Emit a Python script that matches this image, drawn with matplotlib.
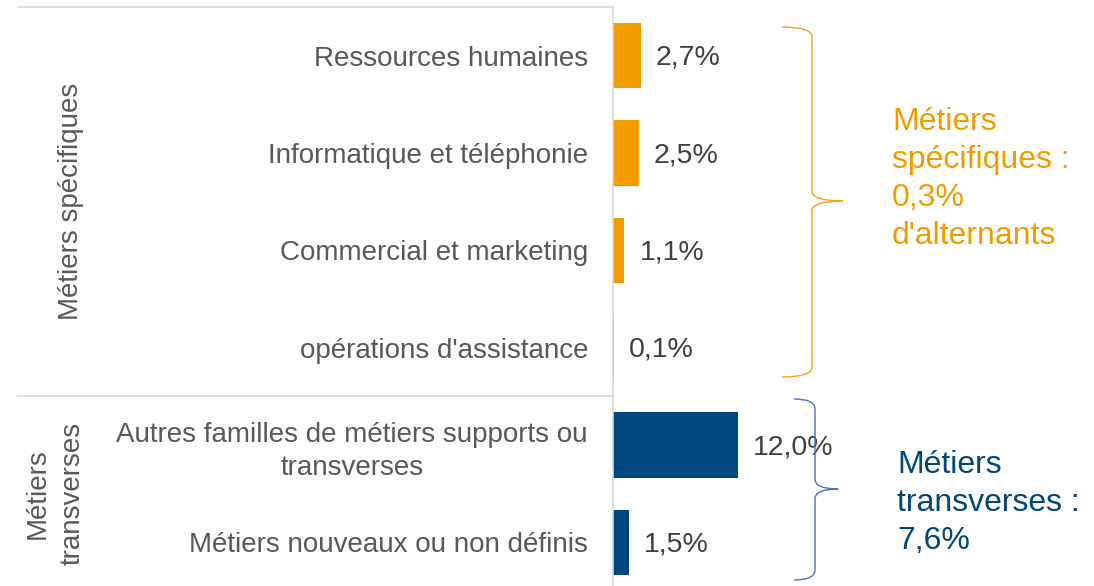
import matplotlib
matplotlib.use("Agg")
import matplotlib.pyplot as plt
from matplotlib.path import Path
from matplotlib.patches import PathPatch
from matplotlib.lines import Line2D
import matplotlib.transforms as mtransforms

plt.rcParams['font.family'] = ['Liberation Sans', 'DejaVu Sans']

# ---- data ----
categories = [
    "Ressources humaines",
    "Informatique et téléphonie",
    "Commercial et marketing",
    "opérations d'assistance",
    "Autres familles de métiers supports ou\ntransverses",
    "Métiers nouveaux ou non définis",
]
values = [2.7, 2.5, 1.1, 0.1, 12.0, 1.5]
groups = ["spec", "spec", "spec", "spec", "trans", "trans"]
group_names = ["Métiers spécifiques", "Métiers\ntransverses"]
group_summaries = ["Métiers\nspécifiques :\n0,3%\nd'alternants",
                   "Métiers\ntransverses :\n7,6%"]

ORANGE = "#F39C00"
NAVY = "#00477D"
BRACE_ORANGE = "#F5A31A"
BRACE_BLUE = "#4A72C4"
group_colors = {"spec": ORANGE, "trans": NAVY}

W, H = 1094, 586
fig = plt.figure(figsize=(W / 100, H / 100), dpi=100)
ax = fig.add_axes([613 / W, -5 / H, 481 / W, 584 / H])

ypos = list(range(len(categories)))
ax.barh(ypos, values, height=0.67,
        color=[group_colors[g] for g in groups])
ax.set_xlim(0, 481 / 10.4)
ax.set_ylim(len(categories) - 0.5, -0.5)

ax.set_yticks(ypos)
ax.set_yticklabels(categories, fontsize=20, color="#595959")
for lab in ax.get_yticklabels():
    lab.set_multialignment("center")
    lab.set_linespacing(1.35)
ax.tick_params(axis="y", length=0, pad=18)
ax.set_xticks([])
for s in ["top", "right", "bottom"]:
    ax.spines[s].set_visible(False)
ax.spines["left"].set_color("#d9d9d9")
ax.spines["left"].set_linewidth(1.2)

for y, v in zip(ypos, values):
    ax.annotate(f"{v:.1f}%".replace(".", ","), xy=(v, y),
                xytext=(15, -2), textcoords="offset pixels",
                va="center", ha="left", fontsize=20.5, color="#404040")

# separators between groups
blend = mtransforms.blended_transform_factory(fig.transFigure, ax.transData)
for yy in [-0.5, 3.5]:
    ax.add_line(Line2D([18 / W, 613 / W], [yy, yy], transform=blend,
                       color="#d9d9d9", lw=1.2, clip_on=False))

# group labels (rotated)
ax.text(84 / W, 1.5, group_names[0], transform=blend, rotation=90,
        ha="right", va="center", fontsize=20, color="#595959")
ax.text(86 / W, 4.5, group_names[1], transform=blend, rotation=90,
        ha="right", va="center", fontsize=20, color="#595959",
        multialignment="center", linespacing=1.45)


def P(x, y):
    return (x / W, 1 - y / H)


def brace(xb, xs, xt, yt, yb, ym, color):
    r = 10
    verts = [P(xb, yt), P(xs, yt), P(xs, yt + r),
             P(xs, ym - r), P(xs, ym), P(xt, ym),
             P(xs, ym), P(xs, ym + r),
             P(xs, yb - r), P(xs, yb), P(xb, yb)]
    codes = [Path.MOVETO, Path.CURVE3, Path.CURVE3,
             Path.LINETO, Path.CURVE3, Path.CURVE3,
             Path.CURVE3, Path.CURVE3,
             Path.LINETO, Path.CURVE3, Path.CURVE3]
    fig.add_artist(PathPatch(Path(verts, codes), transform=fig.transFigure,
                             fill=False, edgecolor=color, lw=1.0))


brace(782, 812, 843, 27, 377, 201, BRACE_ORANGE)
brace(794, 815, 838, 399, 580, 489, BRACE_BLUE)

fig.text(892 / W, 1 - 179 / H, group_summaries[0], ha="left", va="center",
         fontsize=23, color=ORANGE, linespacing=1.36)
fig.text(897 / W, 1 - 503 / H, group_summaries[1], ha="left", va="center",
         fontsize=23, color=NAVY, linespacing=1.36)

fig.savefig("out.png", dpi=100)
